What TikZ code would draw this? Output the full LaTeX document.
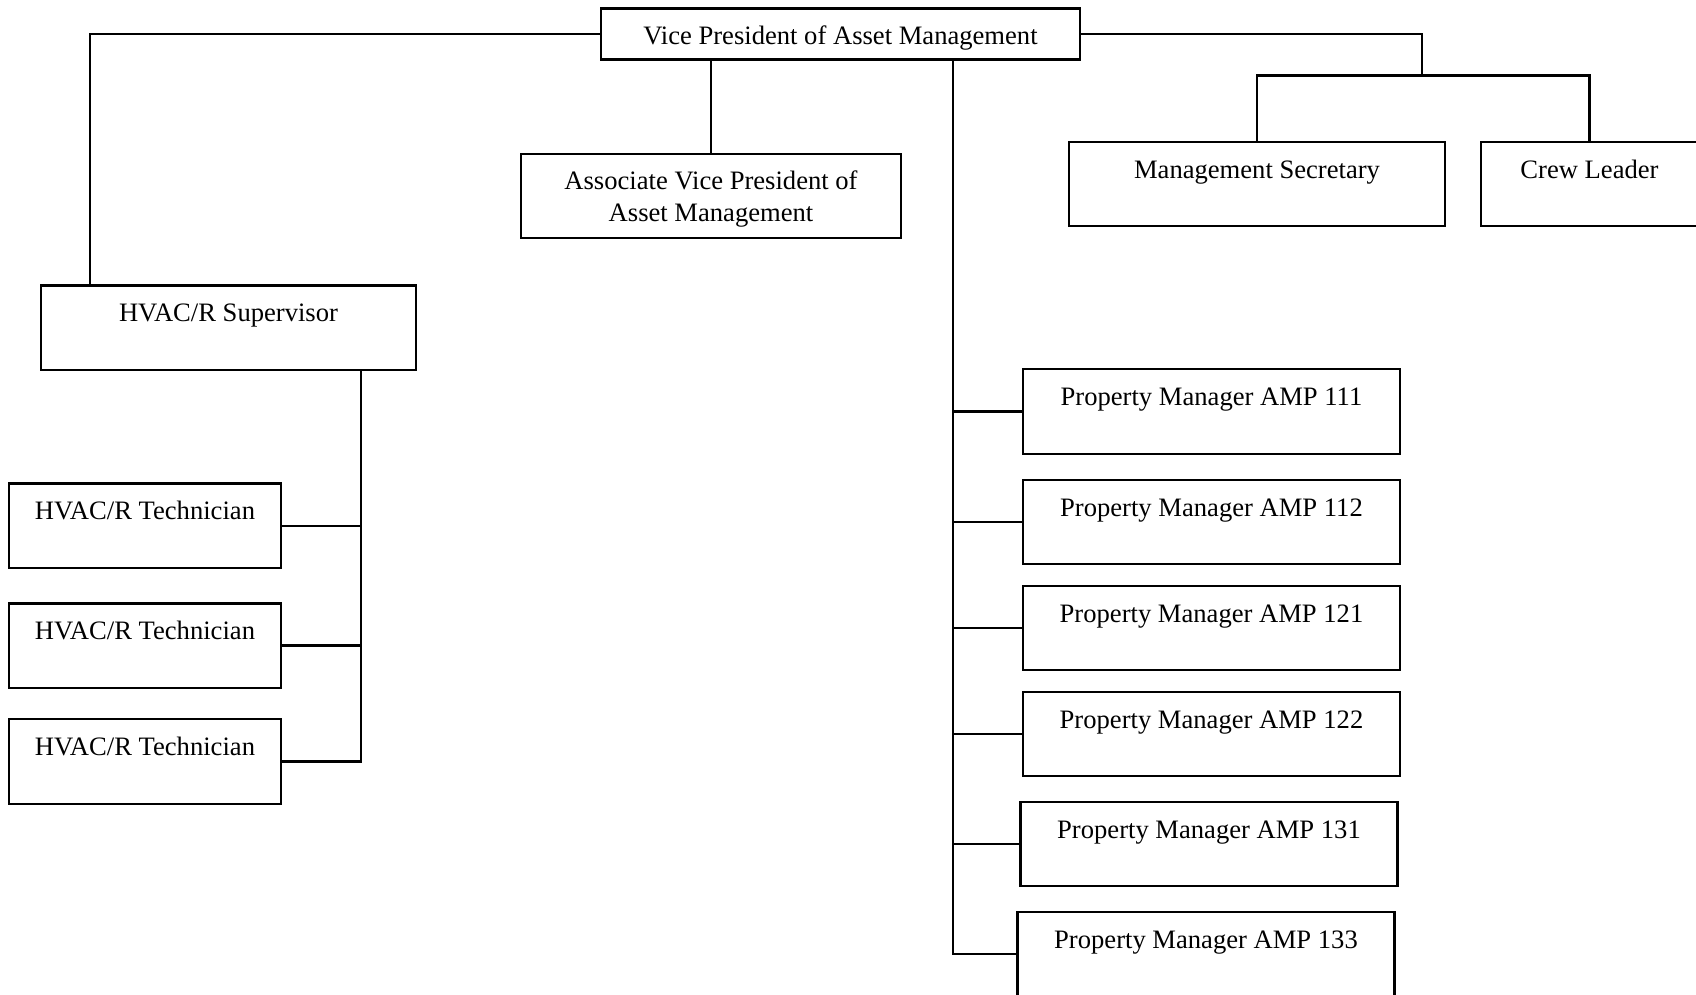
\documentclass[tikz,border=0pt]{standalone}
\usepackage{fontspec}
\setmainfont{Liberation Serif}
\begin{document}
\begin{tikzpicture}[x=1pt,y=-1pt]
\tikzset{
  box/.style={draw, line width=2.1pt, inner sep=0pt, font=\fontsize{26.6}{32.4}\selectfont},
  topbox/.style={box, minimum height=84.5pt, text height=36.5pt, text depth=48pt},
  conthin/.style={line width=1.8pt},
  conmid/.style={line width=2.2pt},
  conthick/.style={line width=2.9pt}
}
\useasboundingbox (0,0) rectangle (1696,995);
\clip (0,0) rectangle (1696,995);

% boxes
\node[box, minimum width=479pt, minimum height=51pt, text height=36pt, text depth=15pt] (vp) at (840.5,34) {Vice President of Asset Management};
\node[box, minimum width=380pt, minimum height=84.5pt, align=center] (avp) at (711,196) {\rule{0pt}{25pt}Associate Vice President of\\Asset Management};
\node[topbox, minimum width=376pt] (ms) at (1257,184) {Management Secretary};
\node[topbox, minimum width=217pt] (cl) at (1589.5,184) {Crew Leader};
\node[topbox, minimum width=375pt] (sup) at (228.5,327.7) {HVAC/R Supervisor};
\node[topbox, minimum width=272pt] (t1) at (145,525.7) {HVAC/R Technician};
\node[topbox, minimum width=272pt] (t2) at (145,645.7) {HVAC/R Technician};
\node[topbox, minimum width=272pt] (t3) at (145,761.5) {HVAC/R Technician};
\node[topbox, minimum width=377pt] (pm111) at (1211.5,411.5) {Property Manager AMP 111};
\node[topbox, minimum width=377pt] (pm112) at (1211.5,522) {Property Manager AMP 112};
\node[topbox, minimum width=377pt] (pm121) at (1211.5,628) {Property Manager AMP 121};
\node[topbox, minimum width=377pt] (pm122) at (1211.5,734) {Property Manager AMP 122};
\node[topbox, minimum width=377pt] (pm131) at (1209,844) {Property Manager AMP 131};
\node[topbox, minimum width=377pt] (pm133) at (1206,954) {Property Manager AMP 133};

% connectors
\coordinate (supjoin) at ([xshift=50pt]sup.north west);
\draw[conmid] (vp.west) -| (supjoin);
\draw[conthick] (avp.north) -- (avp.north |- vp.south);

\coordinate (bar) at (1422,75.7);
\draw[conthin] (vp.east) -| (bar);
\draw[conthick] (ms.north) |- (bar) -| (cl.north);

\coordinate (trunk) at ([xshift=112.5pt]vp.south);
\draw[conthick] (trunk) |- (pm133.west);
\foreach \n in {pm111,pm121,pm131}{
  \draw[conthick] (\n.west) -- (\n.west -| trunk);
}
\foreach \n in {pm112,pm122}{
  \draw[conthin] (\n.west) -- (\n.west -| trunk);
}

\coordinate (suptrunk) at ([xshift=132.5pt]sup.south);
\draw[conthick] (suptrunk) |- (t3.east);
\draw[conthin] (t1.east) -- (t1.east -| suptrunk);
\draw[conthick] (t2.east) -- (t2.east -| suptrunk);
\end{tikzpicture}
\end{document}
